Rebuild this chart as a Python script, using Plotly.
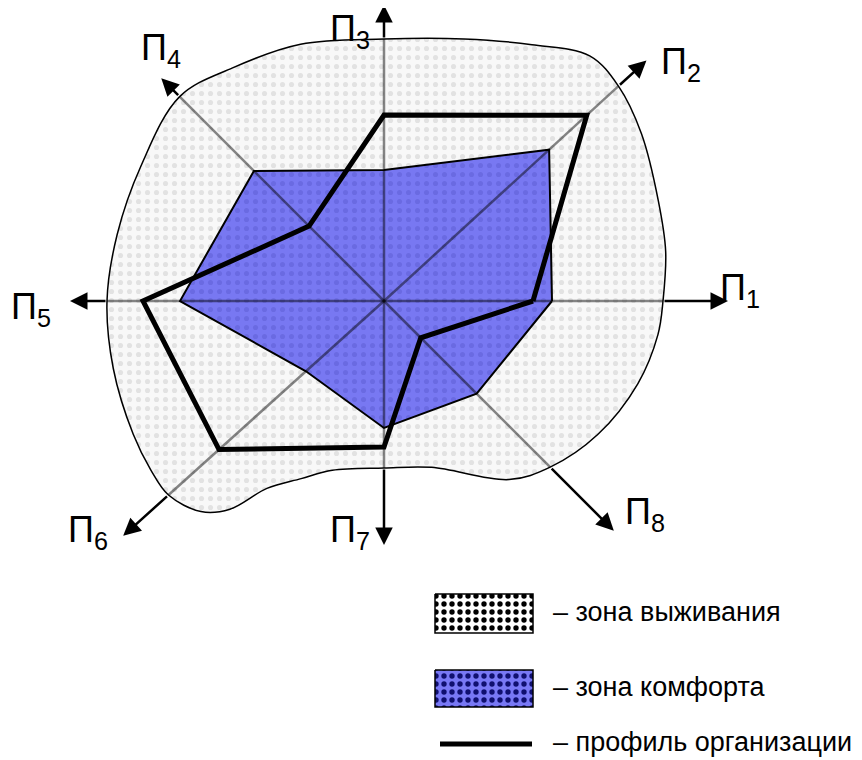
import numpy as np
import plotly.graph_objects as go

# ---------------- data ----------------
axis_numbers = ["1", "2", "3", "4", "5", "6", "7", "8"]
axis_angles = [0, 42.5, 90, 135, 180, 222, 270, 315]          # direction of each axis П1..П8 (deg)
comfort_zone = [168, 224, 131, 184, 204, 105, 127, 131]        # зона комфорта, value on each axis
org_profile = [149, 275, 186, 106, 241, 222, 146, 52]          # профиль организации
survival_angles = [0, 10, 20, 33, 42.5, 50, 60, 73, 90, 108, 123, 135, 151, 166, 180,
                   194, 208, 216, 222, 229, 233.5, 238, 245, 253, 270, 286, 305, 315,
                   328, 342, 353]
survival_radii = [279, 286, 292, 307, 318, 320, 296, 274, 262, 270, 278, 289, 278, 275, 277,
                  279, 284, 288, 290, 279, 259, 221, 196, 177, 167, 173, 218, 235,
                  252, 267, 276]
legend_labels = ["– зона выживания", "– зона комфорта", "– профиль организации"]

# ---------------- layout constants (pixels, centre of the diagram at origin) ----------------
PAGE_MARGIN = 8                      # default body margin of the html page
CX, CY = 384, 301                    # diagram centre in window pixels
W, H = 862 - PAGE_MARGIN, 760 - PAGE_MARGIN
axis_length = [344, 356, 296, 315, 314, 351, 244, 325]
FONT = "Liberation Sans, Arial, sans-serif"


def to_xy(r, a):
    a = np.radians(np.asarray(a, dtype=float))
    r = np.asarray(r, dtype=float)
    return r * np.cos(a), r * np.sin(a)


def img(x, y):
    return x - CX, CY - y


fig = go.Figure()

# survival zone (smooth blob)
sa = list(survival_angles) + [360]
sr = list(survival_radii) + [survival_radii[0]]
bx, by = to_xy(sr, sa)
fig.add_trace(go.Scatter(
    x=bx, y=by, mode="lines", fill="toself",
    line=dict(color="black", width=1.5, shape="spline", smoothing=1.0),
    fillcolor="#f7f7f7",
    fillpattern=dict(shape=".", bgcolor="#f8f8f8", fgcolor="#e2e2e2", fgopacity=1,
                     size=9, solidity=0.25),
    hoverinfo="skip", showlegend=False))

# comfort zone
cx_, cy_ = to_xy(comfort_zone + comfort_zone[:1], axis_angles + axis_angles[:1])
fig.add_trace(go.Scatter(
    x=cx_, y=cy_, mode="lines", fill="toself",
    line=dict(color="black", width=2),
    fillcolor="#7878f0",
    fillpattern=dict(shape=".", bgcolor="#7878f2", fgcolor="#6a6ae2", fgopacity=1,
                     size=9, solidity=0.25),
    hoverinfo="skip", showlegend=False))

# axes inside the survival zone (translucent)
boundary = np.interp(axis_angles, survival_angles, survival_radii)
for ang, rb in zip(axis_angles, boundary):
    lx, ly = to_xy([0, rb], [ang, ang])
    fig.add_trace(go.Scatter(x=lx, y=ly, mode="lines",
                             line=dict(color="rgba(0,0,0,0.47)", width=2.5),
                             hoverinfo="skip", showlegend=False))

# organisation profile
px_, py_ = to_xy(org_profile + org_profile[:1], axis_angles + axis_angles[:1])
fig.add_trace(go.Scatter(x=px_, y=py_, mode="lines",
                         line=dict(color="black", width=5),
                         hoverinfo="skip", showlegend=False))

annotations = []
# arrows outside the survival zone
for ang, rb, L in zip(axis_angles, boundary, axis_length):
    (x0, x1), (y0, y1) = to_xy([rb, L], [ang, ang])
    annotations.append(dict(x=x1, y=y1, ax=x0, ay=y0, xref="x", yref="y", axref="x", ayref="y",
                            text="", showarrow=True, arrowhead=2, arrowsize=1.4,
                            arrowwidth=2.5, arrowcolor="black", standoff=0))

# axis labels (left edge of the text box, vertical middle of the box in window pixels)
label_pos = [(718, 290), (659, 64), (328, 31), (139, 50), (9, 309), (66, 532), (328, 532), (623, 514)]
for num, (lx, ly) in zip(axis_numbers, label_pos):
    x, y = img(lx, ly)
    annotations.append(dict(x=x, y=y, xref="x", yref="y", text="П<sub>" + num + "</sub>",
                            showarrow=False, xanchor="left", yanchor="middle",
                            font=dict(family=FONT, size=36, color="black")))

# legend
sw_x0, sw_x1 = img(435, 0)[0], img(533, 0)[0]
for (ya, yb), bg, fg in [((594, 633), "white", "black"), ((670, 707), "#7878f5", "#101070")]:
    y0, y1 = CY - ya, CY - yb
    fig.add_trace(go.Scatter(
        x=[sw_x0, sw_x1, sw_x1, sw_x0, sw_x0], y=[y0, y0, y1, y1, y0], mode="lines", fill="toself",
        line=dict(color="black", width=1.5), fillcolor=bg,
        fillpattern=dict(shape=".", bgcolor=bg, fgcolor=fg, fgopacity=1, size=8, solidity=0.35),
        hoverinfo="skip", showlegend=False))
ly = CY - 744
fig.add_trace(go.Scatter(x=[img(440, 0)[0], img(532, 0)[0]], y=[ly, ly], mode="lines",
                         line=dict(color="black", width=5), hoverinfo="skip", showlegend=False))
for txt, yy in zip(legend_labels, [612, 687, 742]):
    x, y = img(551, yy)
    annotations.append(dict(x=x, y=y, xref="x", yref="y", text=txt, showarrow=False,
                            xanchor="left", yanchor="middle",
                            font=dict(family=FONT, size=27, color="black")))

# the figure sits inside the page margin: map window pixels onto the axis ranges
x_left = PAGE_MARGIN - CX
y_top = CY - PAGE_MARGIN
fig.update_layout(
    width=W, height=H, margin=dict(l=0, r=0, t=0, b=0),
    paper_bgcolor="white", plot_bgcolor="white",
    xaxis=dict(range=[x_left, x_left + W], visible=False, fixedrange=True),
    yaxis=dict(range=[y_top - H, y_top], visible=False, fixedrange=True),
    annotations=annotations, showlegend=False,
)

fig.write_html("out.html")
